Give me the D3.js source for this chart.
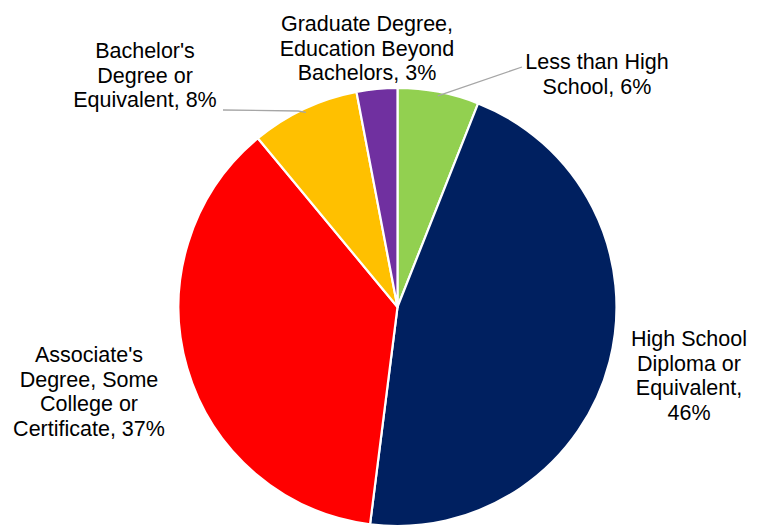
<!DOCTYPE html>
<html>
<head>
<meta charset="utf-8">
<script src="https://cdn.jsdelivr.net/npm/d3@7/dist/d3.min.js"></script>
<style>
  html, body { margin: 0; padding: 0; background: #fff; }
  svg { display: block; }
  text { font-family: "Liberation Sans", Arial, sans-serif; font-size: 21.5px; fill: #000; }
</style>
</head>
<body>
<svg id="chart" width="764" height="525"></svg>
<script>
// Educational attainment shares, clockwise from 12 o'clock
const categories = [
  "Less than High School",
  "High School Diploma or Equivalent",
  "Associate's Degree, Some College or Certificate",
  "Bachelor's Degree or Equivalent",
  "Graduate Degree, Education Beyond Bachelors"
];
const shares = [6, 46, 37, 8, 3];
const sliceColors = ["#92D050", "#002060", "#FF0000", "#FFC000", "#7030A0"];

// Label lines per slice (as wrapped in the chart)
const labelLines = [
  ["Less than High", "School, 6%"],
  ["High School", "Diploma or", "Equivalent,", "46%"],
  ["Associate's", "Degree, Some", "College or", "Certificate, 37%"],
  ["Bachelor's", "Degree or", "Equivalent, 8%"],
  ["Graduate Degree,", "Education Beyond", "Bachelors, 3%"]
];

const width = 764, height = 525;
const cx = 397.5, cy = 307, radius = 219;
const lineHeight = 24.5;

// Label anchor: [centre x, first baseline y]
const labelPos = [
  [597, 69],
  [689, 346],
  [89, 362],
  [145, 58],
  [367, 31]
];

const svg = d3.select("#chart");
const g = svg.append("g").attr("transform", `translate(${cx},${cy})`);

const pie = d3.pie().sort(null).value(d => d);
const arcs = pie(shares);
const arc = d3.arc().innerRadius(0).outerRadius(radius);

g.selectAll("path.slice")
  .data(arcs)
  .join("path")
  .attr("class", "slice")
  .attr("d", arc)
  .attr("fill", (d, i) => sliceColors[i])
  .attr("stroke", "#fff")
  .attr("stroke-width", 2.2)
  .attr("stroke-linejoin", "round");

// Leader lines for the two labels placed away from their slices
const pointOn = (a, r) => [cx + r * Math.sin(a), cy - r * Math.cos(a)];
const mid = d => (d.startAngle + d.endAngle) / 2;

const leaders = [
  { i: 0, path: p => [p, [522, 67]] },
  { i: 3, path: p => [p, [298, 111], [223, 110]] }
];
const line = d3.line();
leaders.forEach(l => {
  const p = pointOn(mid(arcs[l.i]), radius - 4);
  svg.append("path")
    .attr("d", line(l.path(p)))
    .attr("fill", "none")
    .attr("stroke", "#A6A6A6")
    .attr("stroke-width", 1.3);
});

// Data labels
labelLines.forEach((lines, i) => {
  const [lx, ly] = labelPos[i];
  const t = svg.append("text")
    .attr("text-anchor", "middle")
    .attr("x", lx)
    .attr("y", ly);
  lines.forEach((s, k) => {
    t.append("tspan")
      .attr("x", lx)
      .attr("y", ly + k * lineHeight)
      .text(s);
  });
});
</script>
</body>
</html>
